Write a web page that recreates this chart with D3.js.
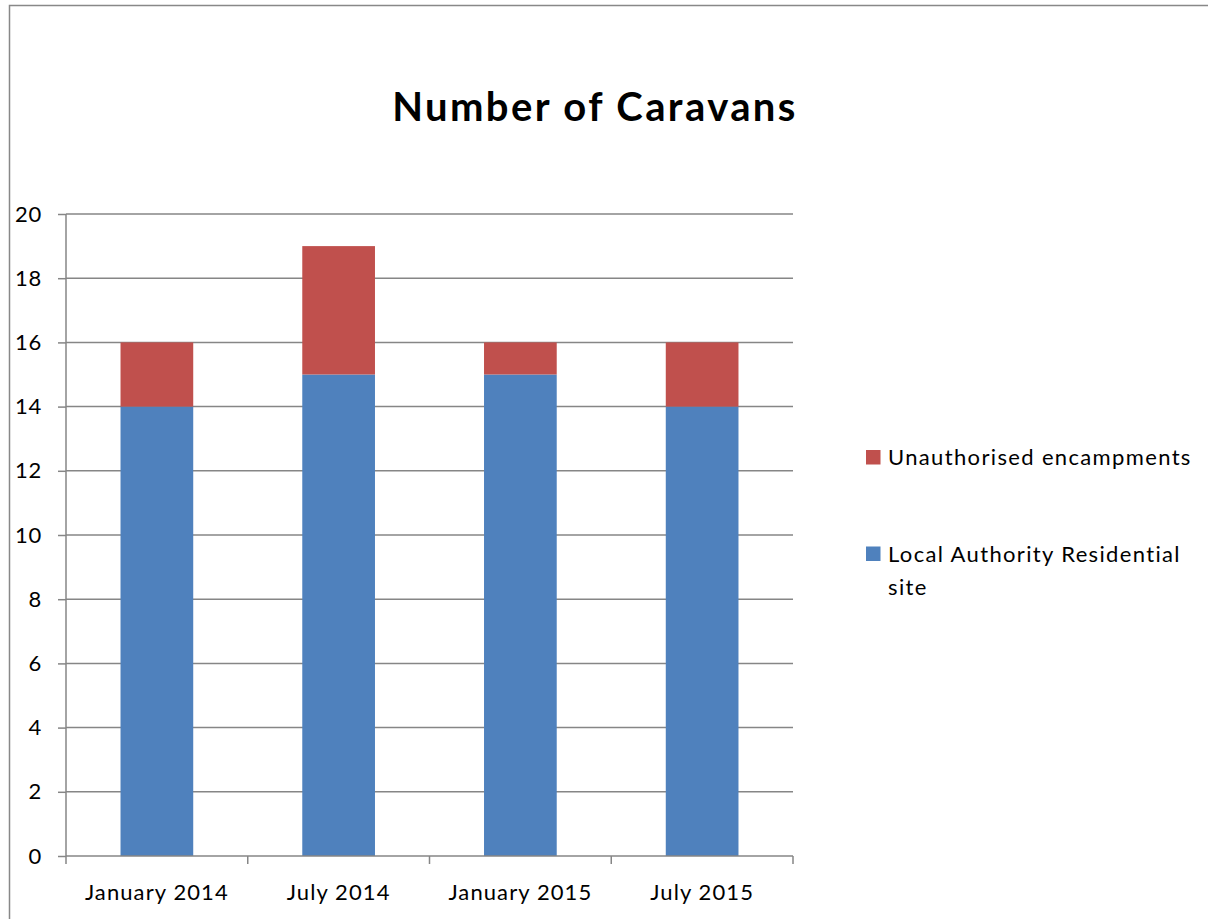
<!DOCTYPE html>
<html>
<head>
<meta charset="utf-8">
<script src="https://cdn.jsdelivr.net/npm/d3@7/dist/d3.min.js"></script>
<style>
  html, body { margin: 0; padding: 0; background: #fff; }
  svg { display: block; }
  text { font-family: Lato, "Open Sans", sans-serif; fill: #000; }
</style>
</head>
<body>
<svg id="chart" width="1208" height="919"></svg>
<script>
// Survey periods and caravan counts per site type
const categories = ["January 2014", "July 2014", "January 2015", "July 2015"];
const localAuthority = [14, 15, 15, 14];
const unauthorised = [2, 4, 1, 2];
const yTicks = [0, 2, 4, 6, 8, 10, 12, 14, 16, 18, 20];
const seriesNames = ["Unauthorised encampments", "Local Authority Residential site"];
const seriesColors = ["#C0504D", "#4F81BD"];

const svg = d3.select("#chart");

// outer frame of the chart object
svg.append("rect")
  .attr("x", 9.5).attr("y", 5.5)
  .attr("width", 1300).attr("height", 1000)
  .attr("fill", "none").attr("stroke", "#888").attr("stroke-width", 1.5);

// title
svg.append("text")
  .attr("x", 595).attr("y", 121)
  .attr("text-anchor", "middle")
  .style("font-size", "40px").style("font-weight", "bold")
  .style("letter-spacing", "2.4px")
  .text("Number of Caravans");

const plot = { left: 66, right: 793, top: 214, bottom: 856 };

const x = d3.scaleBand()
  .domain(categories)
  .range([plot.left, plot.right])
  .paddingInner(0.6)
  .paddingOuter(0.3);

const y = d3.scaleLinear()
  .domain([0, 20])
  .range([plot.bottom, plot.top]);

// horizontal gridlines
svg.append("g")
  .selectAll("line")
  .data(yTicks.filter(d => d > 0))
  .join("line")
  .attr("x1", plot.left).attr("x2", plot.right)
  .attr("y1", d => y(d)).attr("y2", d => y(d))
  .attr("stroke", "#868686").attr("stroke-width", 1.5);

// stacked bars
const rows = categories.map((c, i) => ({ cat: c, la: localAuthority[i], ua: unauthorised[i] }));
const stack = d3.stack().keys(["la", "ua"])(rows);
const colorByKey = { la: seriesColors[1], ua: seriesColors[0] };

svg.append("g")
  .selectAll("g")
  .data(stack)
  .join("g")
  .attr("fill", s => colorByKey[s.key])
  .selectAll("rect")
  .data(s => s)
  .join("rect")
  .attr("x", d => x(d.data.cat))
  .attr("width", x.bandwidth())
  .attr("y", d => y(d[1]))
  .attr("height", d => y(d[0]) - y(d[1]));

// y axis
const yAxis = svg.append("g")
  .attr("transform", `translate(${plot.left},0)`)
  .call(d3.axisLeft(y).tickValues(yTicks).tickSize(8).tickPadding(16));
yAxis.selectAll("line, path").attr("stroke", "#868686").attr("stroke-width", 1.5);
yAxis.select(".domain").attr("d", `M0,${plot.top}V${plot.bottom}`);
yAxis.selectAll("text")
  .style("font-size", "22px")
  .style("font-family", "Lato, sans-serif")
  .style("letter-spacing", "0.8px")
  .attr("fill", "#000");

// x axis: ticks sit on the band boundaries
const xAxis = svg.append("g")
  .attr("transform", `translate(0,${plot.bottom})`);
xAxis.append("line")
  .attr("x1", plot.left).attr("x2", plot.right)
  .attr("y1", 0).attr("y2", 0)
  .attr("stroke", "#868686").attr("stroke-width", 1.5);
const boundaries = categories.map((c, i) => i === 0 ? plot.left : x(c) - x.step() * x.paddingInner() / 2);
boundaries.push(plot.right);
xAxis.selectAll("line.tick")
  .data(boundaries)
  .join("line")
  .attr("class", "tick")
  .attr("x1", d => d).attr("x2", d => d)
  .attr("y1", 0).attr("y2", 8)
  .attr("stroke", "#868686").attr("stroke-width", 1.5);
xAxis.selectAll("text")
  .data(categories)
  .join("text")
  .attr("x", d => x(d) + x.bandwidth() / 2)
  .attr("y", 44)
  .attr("text-anchor", "middle")
  .style("font-size", "22px")
  .style("letter-spacing", "1.1px")
  .text(d => d);

// legend
const legend = svg.append("g");
const legendRows = [
  { color: seriesColors[0], y: 450, lines: [seriesNames[0]] },
  { color: seriesColors[1], y: 546.5, lines: ["Local Authority Residential", "site"] }
];
legendRows.forEach(r => {
  legend.append("rect")
    .attr("x", 866).attr("y", r.y)
    .attr("width", 14.5).attr("height", 14.5)
    .attr("fill", r.color);
  const t = legend.append("text")
    .attr("x", 888).attr("y", r.y + 15)
    .style("font-size", "22px")
    .style("letter-spacing", "1.35px");
  r.lines.forEach((ln, i) => {
    t.append("tspan").attr("x", 888).attr("dy", i === 0 ? 0 : 33).text(ln);
  });
});
</script>
</body>
</html>
